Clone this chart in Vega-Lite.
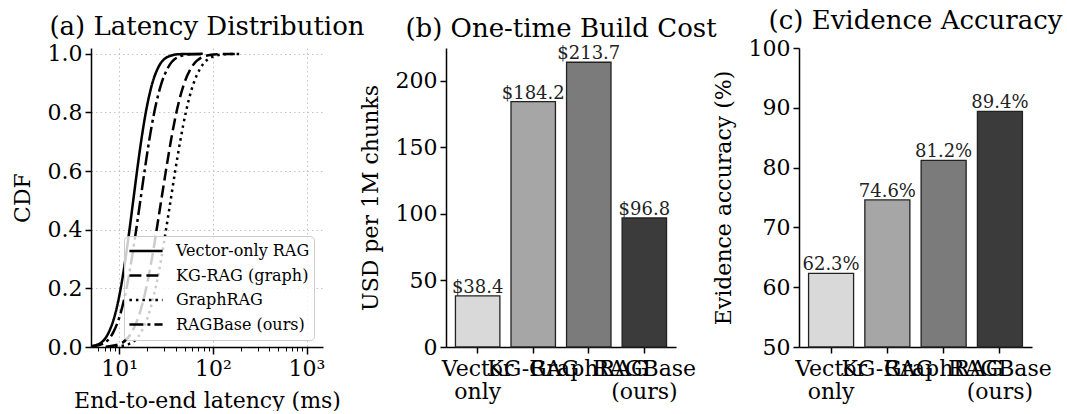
{
  "$schema": "https://vega.github.io/schema/vega-lite/v6.json",
  "autosize": {"type": "pad"},
  "padding": {"left": 11, "top": 8, "right": 0, "bottom": 0},
  "background": "white",
  "config": {
    "font": "DejaVu Serif",
    "view": {"stroke": null},
    "axis": {
      "labelFont": "DejaVu Serif", "titleFont": "DejaVu Serif",
      "labelFontSize": 22, "titleFontSize": 22, "titleFontWeight": "normal",
      "labelColor": "black", "titleColor": "black",
      "domainColor": "black", "tickColor": "black",
      "domainWidth": 1.5, "tickWidth": 1.5, "tickSize": 6, "labelPadding": 3,
      "titlePadding": 13, "grid": false
    },
    "axisX": {"labelPadding": 4, "titlePadding": 11},
    "title": {"font": "DejaVu Serif", "fontSize": 26, "fontWeight": "normal", "color": "black", "offset": 3}
  },
  "spacing": 123,
  "bounds": "flush",
  "hconcat": [
    {
      "width": 232, "height": 299,
      "title": "(a) Latency Distribution",
      "data": {"values": [
        {"m": "Vector-only RAG", "x": 4.56, "p": 0.001},
        {"m": "Vector-only RAG", "x": 6.03, "p": 0.01},
        {"m": "Vector-only RAG", "x": 7.73, "p": 0.05},
        {"m": "Vector-only RAG", "x": 8.84, "p": 0.1},
        {"m": "Vector-only RAG", "x": 10.38, "p": 0.2},
        {"m": "Vector-only RAG", "x": 11.66, "p": 0.3},
        {"m": "Vector-only RAG", "x": 12.88, "p": 0.4},
        {"m": "Vector-only RAG", "x": 14.13, "p": 0.5},
        {"m": "Vector-only RAG", "x": 15.5, "p": 0.6},
        {"m": "Vector-only RAG", "x": 17.12, "p": 0.7},
        {"m": "Vector-only RAG", "x": 19.23, "p": 0.8},
        {"m": "Vector-only RAG", "x": 22.59, "p": 0.9},
        {"m": "Vector-only RAG", "x": 25.8, "p": 0.95},
        {"m": "Vector-only RAG", "x": 33.1, "p": 0.99},
        {"m": "Vector-only RAG", "x": 43.8, "p": 0.999},
        {"m": "Vector-only RAG", "x": 78, "p": 1.0},
        {"m": "KG-RAG (graph)", "x": 7.18, "p": 0.001},
        {"m": "KG-RAG (graph)", "x": 10.05, "p": 0.01},
        {"m": "KG-RAG (graph)", "x": 13.6, "p": 0.05},
        {"m": "KG-RAG (graph)", "x": 15.96, "p": 0.1},
        {"m": "KG-RAG (graph)", "x": 19.4, "p": 0.2},
        {"m": "KG-RAG (graph)", "x": 22.3, "p": 0.3},
        {"m": "KG-RAG (graph)", "x": 25.1, "p": 0.4},
        {"m": "KG-RAG (graph)", "x": 28.1, "p": 0.5},
        {"m": "KG-RAG (graph)", "x": 31.5, "p": 0.6},
        {"m": "KG-RAG (graph)", "x": 35.5, "p": 0.7},
        {"m": "KG-RAG (graph)", "x": 40.8, "p": 0.8},
        {"m": "KG-RAG (graph)", "x": 49.5, "p": 0.9},
        {"m": "KG-RAG (graph)", "x": 58.2, "p": 0.95},
        {"m": "KG-RAG (graph)", "x": 78.7, "p": 0.99},
        {"m": "KG-RAG (graph)", "x": 110, "p": 0.999},
        {"m": "KG-RAG (graph)", "x": 180, "p": 1.0},
        {"m": "GraphRAG", "x": 9.04, "p": 0.001},
        {"m": "GraphRAG", "x": 12.66, "p": 0.01},
        {"m": "GraphRAG", "x": 17.1, "p": 0.05},
        {"m": "GraphRAG", "x": 20.1, "p": 0.1},
        {"m": "GraphRAG", "x": 24.4, "p": 0.2},
        {"m": "GraphRAG", "x": 28.1, "p": 0.3},
        {"m": "GraphRAG", "x": 31.6, "p": 0.4},
        {"m": "GraphRAG", "x": 35.4, "p": 0.5},
        {"m": "GraphRAG", "x": 39.6, "p": 0.6},
        {"m": "GraphRAG", "x": 44.7, "p": 0.7},
        {"m": "GraphRAG", "x": 51.4, "p": 0.8},
        {"m": "GraphRAG", "x": 62.4, "p": 0.9},
        {"m": "GraphRAG", "x": 73.3, "p": 0.95},
        {"m": "GraphRAG", "x": 99.1, "p": 0.99},
        {"m": "GraphRAG", "x": 139, "p": 0.999},
        {"m": "GraphRAG", "x": 205, "p": 1.0},
        {"m": "RAGBase (ours)", "x": 4.81, "p": 0.001},
        {"m": "RAGBase (ours)", "x": 6.56, "p": 0.01},
        {"m": "RAGBase (ours)", "x": 8.64, "p": 0.05},
        {"m": "RAGBase (ours)", "x": 10.01, "p": 0.1},
        {"m": "RAGBase (ours)", "x": 11.97, "p": 0.2},
        {"m": "RAGBase (ours)", "x": 13.6, "p": 0.3},
        {"m": "RAGBase (ours)", "x": 15.18, "p": 0.4},
        {"m": "RAGBase (ours)", "x": 16.83, "p": 0.5},
        {"m": "RAGBase (ours)", "x": 18.65, "p": 0.6},
        {"m": "RAGBase (ours)", "x": 20.8, "p": 0.7},
        {"m": "RAGBase (ours)", "x": 23.66, "p": 0.8},
        {"m": "RAGBase (ours)", "x": 28.3, "p": 0.9},
        {"m": "RAGBase (ours)", "x": 32.8, "p": 0.95},
        {"m": "RAGBase (ours)", "x": 43.2, "p": 0.99},
        {"m": "RAGBase (ours)", "x": 58.9, "p": 0.999},
        {"m": "RAGBase (ours)", "x": 80, "p": 1.0}
      ]},
      "mark": {"type": "line", "interpolate": "monotone", "strokeWidth": 2.5, "color": "black", "clip": true},
      "encoding": {
        "x": {
          "field": "x", "type": "quantitative",
          "scale": {"type": "log", "domain": [5, 1500], "nice": false},
          "axis": {
            "title": "End-to-end latency (ms)",
            "values": [6, 7, 8, 9, 10, 20, 30, 40, 50, 60, 70, 80, 90, 100, 200, 300, 400, 500, 600, 700, 800, 900, 1000],
            "labelExpr": "datum.value == 10 ? '10¹' : datum.value == 100 ? '10²' : datum.value == 1000 ? '10³' : ''",
            "tickSize": {"condition": {"test": "datum.value == 10 || datum.value == 100 || datum.value == 1000", "value": 7}, "value": 4},
            "tickWidth": {"condition": {"test": "datum.value == 10 || datum.value == 100 || datum.value == 1000", "value": 1.5}, "value": 1},
            "grid": true, "gridDash": [1.5, 3], "gridColor": "#c4c4c4",
            "gridOpacity": {"condition": {"test": "datum.value == 10 || datum.value == 100 || datum.value == 1000", "value": 1}, "value": 0},
            "labelOverlap": false
          }
        },
        "y": {
          "field": "p", "type": "quantitative",
          "scale": {"domain": [0, 1.02], "nice": false},
          "axis": {"title": "CDF", "values": [0, 0.2, 0.4, 0.6, 0.8, 1.0], "format": ".1f", "grid": true, "gridDash": [1.5, 3], "gridColor": "#c4c4c4"}
        },
        "strokeDash": {
          "field": "m", "type": "nominal",
          "scale": {"domain": ["Vector-only RAG", "KG-RAG (graph)", "GraphRAG", "RAGBase (ours)"], "range": [[1, 0], [12, 5], [2.5, 4], [14, 4, 3, 4]]},
          "legend": {
            "title": null, "orient": "none", "legendX": 33, "legendY": 188,
            "fillColor": "rgba(255,255,255,0.8)", "strokeColor": "#cccccc", "cornerRadius": 4, "padding": 4,
            "symbolType": "stroke", "symbolSize": 1100, "symbolStrokeWidth": 2.5, "symbolStrokeColor": "black",
            "labelFont": "DejaVu Serif", "labelFontSize": 16, "labelColor": "black", "labelOffset": 12,
            "clipHeight": 22, "rowPadding": 2.5
          }
        }
      }
    },
    {
      "width": 230, "height": 299,
      "title": "(b) One-time Build Cost",
      "data": {"values": [
        {"method": "Vector-only", "cost": 38.4},
        {"method": "KG-RAG", "cost": 184.2},
        {"method": "GraphRAG", "cost": 213.7},
        {"method": "RAGBase (ours)", "cost": 96.8}
      ]},
      "encoding": {
        "x": {
          "field": "method", "type": "nominal", "sort": null,
          "scale": {"paddingInner": 0.2, "paddingOuter": 0.17},
          "axis": {
            "title": null, "labelAngle": 0, "labelOverlap": false, "labelFontSize": 22, "labelLineHeight": 23,
            "labelBaseline": "top", "labelPadding": 5,
            "labelExpr": "datum.label == 'Vector-only' ? ['Vector', 'only'] : datum.label == 'RAGBase (ours)' ? ['RAGBase', '(ours)'] : datum.label"
          }
        },
        "y": {
          "field": "cost", "type": "quantitative",
          "scale": {"domain": [0, 224.4], "nice": false},
          "axis": {"title": "USD per 1M chunks", "values": [0, 50, 100, 150, 200]}
        }
      },
      "layer": [
        {
          "mark": {"type": "bar", "stroke": "#222222", "strokeWidth": 1.3},
          "encoding": {
            "fill": {"field": "method", "type": "nominal", "sort": null, "scale": {"domain": ["Vector-only", "KG-RAG", "GraphRAG", "RAGBase (ours)"], "range": ["#d9d9d9", "#a6a6a6", "#7b7b7b", "#3b3b3b"]}, "legend": null}
          }
        },
        {
          "mark": {"type": "text", "baseline": "alphabetic", "dy": -3, "fontSize": 18, "font": "DejaVu Serif", "color": "#222222"},
          "encoding": {"text": {"field": "cost", "type": "quantitative", "format": "$.1f"}}
        }
      ]
    },
    {
      "width": 233, "height": 299,
      "title": "(c) Evidence Accuracy",
      "data": {"values": [
        {"method": "Vector-only", "acc": 62.3, "label": "62.3%"},
        {"method": "KG-RAG", "acc": 74.6, "label": "74.6%"},
        {"method": "GraphRAG", "acc": 81.2, "label": "81.2%"},
        {"method": "RAGBase (ours)", "acc": 89.4, "label": "89.4%"}
      ]},
      "encoding": {
        "x": {
          "field": "method", "type": "nominal", "sort": null,
          "scale": {"paddingInner": 0.2, "paddingOuter": 0.17},
          "axis": {
            "title": null, "labelAngle": 0, "labelOverlap": false, "labelFontSize": 22, "labelLineHeight": 23,
            "labelBaseline": "top", "labelPadding": 5,
            "labelExpr": "datum.label == 'Vector-only' ? ['Vector', 'only'] : datum.label == 'RAGBase (ours)' ? ['RAGBase', '(ours)'] : datum.label"
          }
        },
        "y": {
          "field": "acc", "type": "quantitative",
          "scale": {"domain": [50, 100], "nice": false, "zero": false},
          "axis": {"title": "Evidence accuracy (%)", "values": [50, 60, 70, 80, 90, 100]}
        }
      },
      "layer": [
        {
          "mark": {"type": "bar", "stroke": "#222222", "strokeWidth": 1.3},
          "encoding": {
            "y2": {"datum": 50},
            "fill": {"field": "method", "type": "nominal", "sort": null, "scale": {"domain": ["Vector-only", "KG-RAG", "GraphRAG", "RAGBase (ours)"], "range": ["#d9d9d9", "#a6a6a6", "#7b7b7b", "#3b3b3b"]}, "legend": null}
          }
        },
        {
          "mark": {"type": "text", "baseline": "alphabetic", "dy": -3, "fontSize": 18, "font": "DejaVu Serif", "color": "#222222"},
          "encoding": {"text": {"field": "label", "type": "nominal"}}
        }
      ]
    }
  ]
}
